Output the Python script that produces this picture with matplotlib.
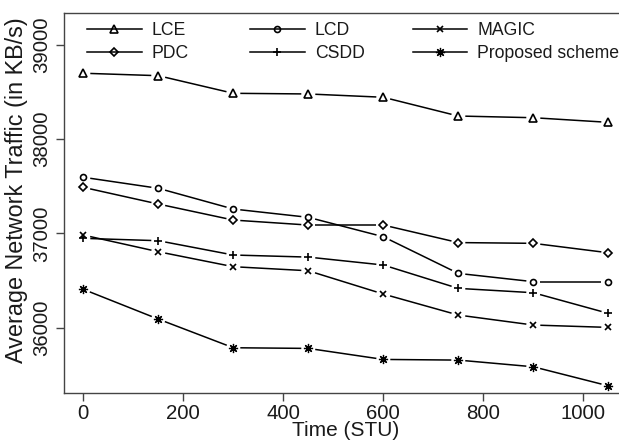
import numpy as np
import matplotlib
matplotlib.use("Agg")
import matplotlib.pyplot as plt
from matplotlib.lines import Line2D

# values
time_stu = [0, 150, 300, 450, 600, 750, 900, 1050]
lce = [38700, 38674, 38487, 38480, 38445, 38246, 38228, 38179]
lcd = [37596, 37479, 37259, 37171, 36965, 36576, 36488, 36488]
magic = [36983, 36806, 36647, 36604, 36357, 36134, 36028, 36003]
pdc = [37489, 37312, 37142, 37089, 37089, 36903, 36895, 36795]
csdd = [36948, 36923, 36771, 36749, 36665, 36417, 36371, 36152]
proposed = [36407, 36091, 35787, 35780, 35663, 35656, 35585, 35383]

series = [
    ("LCE", lce, dict(marker="^", ms=5.5, mfc="none", mew=1.2)),
    ("LCD", lcd, dict(marker="o", ms=4.3, mfc="none", mew=1.2)),
    ("MAGIC", magic, dict(marker="x", ms=4.8, mew=1.2)),
    ("PDC", pdc, dict(marker="D", ms=4.2, mfc="none", mew=1.2)),
    ("CSDD", csdd, dict(marker="+", ms=6.0, mew=1.2)),
    ("Proposed scheme", proposed, dict(marker=(8, 2, 0), ms=6.6, mew=0.9)),
]

plt.rcParams["font.family"] = ["Liberation Sans", "DejaVu Sans"]
TXT = "#1a1a1a"
GRAY = "#444444"

fig = plt.figure(figsize=(6.19, 4.42), dpi=100)
W, H = 619, 442
ax = fig.add_axes([64 / W, 1 - 392.7 / H, 1 - 64 / W, (392.7 - 13.3) / H])
ax.set_xlim(-38.6, 1071.4)
ax.set_ylim(35310, 39336)


def gapped_line(ax, xs, ys, gap=7.0):
    # R type="b": segments stop short of each point
    pts = ax.transData.transform(np.column_stack([xs, ys]))
    inv = ax.transData.inverted()
    for p, q in zip(pts[:-1], pts[1:]):
        d = q - p
        L = np.hypot(*d)
        if L <= 2 * gap:
            continue
        u = d / L
        seg = inv.transform(np.array([p + u * gap, q - u * gap]))
        ax.plot(seg[:, 0], seg[:, 1], color="black", lw=1.1,
                solid_capstyle="butt")


handles = []
for name, ys, mk in series:
    gapped_line(ax, time_stu, ys)
    ax.plot(time_stu, ys, ls="none", color="black", mec="black", **mk)
    handles.append(Line2D([], [], color="black", lw=1.1, mec="black",
                          label=name, **mk))

ax.set_xticks([0, 200, 400, 600, 800, 1000])
ax.set_yticks([36000, 37000, 38000, 39000])
ax.tick_params(direction="out", length=5.8, width=1, color=GRAY,
               labelsize=14.7, labelcolor=TXT)
ax.tick_params(axis="x", pad=2.2)
ax.tick_params(axis="y", pad=3.4)
for lab in ax.get_yticklabels():
    lab.set_rotation(90)
    lab.set_va("center")

for s in ["left", "bottom", "top"]:
    ax.spines[s].set_color(GRAY)
    ax.spines[s].set_linewidth(1)
ax.spines["right"].set_visible(False)

ax.set_xlabel("Time (STU)", fontsize=15, color=TXT)
ax.xaxis.set_label_coords(0.508, -0.0746)
ax.set_ylabel("Average Network Traffic (in KB/s)", fontsize=16.8, color=TXT)
ax.yaxis.set_label_coords(-0.065, 0.534)

# legend: three columns with fixed starts, like R's legend()
col_x = [87, 250, 412.6]
for i, cx in enumerate(col_x):
    leg = ax.legend(handles=[handles[i], handles[i + 3]], loc="upper left",
                    bbox_to_anchor=(cx / W, 1 - 22 / H),
                    bbox_transform=fig.transFigure, frameon=False,
                    fontsize=12.7, handlelength=3.1, handletextpad=0.57,
                    labelspacing=0.33, borderpad=0, borderaxespad=0)
    for t in leg.get_texts():
        t.set_color(TXT)
    if i < 2:
        ax.add_artist(leg)

fig.savefig("out.png", dpi=100)
